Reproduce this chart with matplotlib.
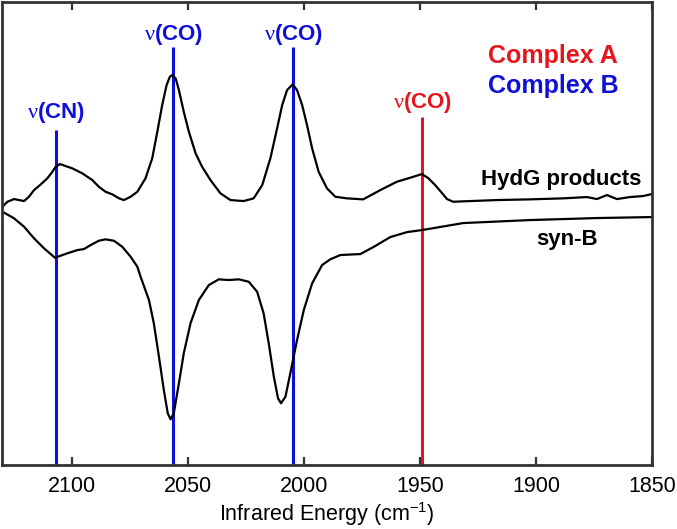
import numpy as np
import matplotlib
matplotlib.use("Agg")
import matplotlib.pyplot as plt

plt.rcParams['font.family'] = ['Liberation Sans', 'DejaVu Sans']
plt.rcParams['mathtext.fontset'] = 'custom'
plt.rcParams['mathtext.rm'] = 'Liberation Serif'

# HydG products spectrum (wavenumber, arbitrary intensity)
hydg_wn = [2129.8, 2127.7, 2124.8, 2122.7, 2120.5, 2118.4, 2116.2, 2113.3, 2110.5,
           2108.3, 2106.9, 2105.0, 2102.6, 2099.7, 2095.4, 2091.1, 2088.3, 2085.4,
           2082.5, 2079.6, 2077.5, 2074.6, 2071.7, 2068.2, 2065.3, 2063.1, 2061.0,
           2059.1, 2057.7, 2056.7, 2055.2, 2053.8, 2051.7, 2049.5, 2046.6, 2043.8,
           2040.2, 2035.9, 2031.6, 2025.9, 2021.6, 2017.9, 2014.4, 2011.5, 2009.3,
           2007.2, 2004.8, 2002.9, 2000.7, 1998.6, 1996.4, 1993.6, 1990.0, 1986.4,
           1981.4, 1974.4, 1967.0, 1959.9, 1952.8, 1949.1, 1946.4, 1943.4, 1940.8,
           1938.3, 1935.6, 1928.3, 1916.8, 1902.5, 1888.3, 1878.0, 1873.7, 1869.4,
           1865.1, 1859.5, 1853.9, 1850.0]
hydg_int = [258.3, 263.3, 266, 265, 264, 268.3, 275, 280.7, 286.7,
            293.3, 298.3, 301, 299, 296.7, 291.7, 285, 278.3, 273.3,
            270.7, 266.7, 265, 268.3, 273.3, 286.7, 306.7, 333.3, 360,
            380, 388.3, 390, 386.7, 375, 353.3, 333.3, 311.7, 298.3,
            285, 271.7, 265, 264, 266.7, 280, 306.7, 336.7, 360,
            375, 380.7, 375, 360, 340, 316.7, 293.3, 276.7, 268.3,
            266.7, 265.7, 275, 283.3, 288.3, 291, 287, 280, 273,
            266, 263.3, 264, 265, 265.7, 266.7, 268, 266, 270,
            266, 268, 269, 271]

# syn-B spectrum
synb_wn = [2129.8, 2124.8, 2120.5, 2116.2, 2111.9, 2107.2, 2101.9, 2097.5, 2094.7,
           2091.8, 2088.3, 2085.4, 2081.8, 2078.2, 2074.6, 2071.7, 2070.3, 2066.7,
           2064.6, 2062.4, 2060.3, 2058.6, 2057.4, 2056.0, 2053.8, 2051.7, 2048.8,
           2045.2, 2040.9, 2036.6, 2032.3, 2028.0, 2023.7, 2020.1, 2017.3, 2015.1,
           2012.9, 2011.1, 2009.8, 2007.9, 2005.8, 2002.9, 2000.0, 1996.4, 1992.1,
           1988.6, 1984.3, 1975.6, 1970.0, 1962.7, 1955.4, 1949.0, 1931.3, 1902.5,
           1873.7, 1850.0]
synb_int = [253.3, 246.7, 238.3, 226.7, 216.7, 207.3, 211.7, 215, 216,
            220, 224.3, 225.7, 224.3, 218.3, 208.3, 198.3, 188.3, 165,
            141.7, 108.3, 75, 51.7, 45.7, 51.7, 81.7, 111.7, 141.7,
            165, 180, 185.7, 185, 185.7, 183.3, 173.3, 151.7, 121.7,
            88.3, 66.7, 61.7, 68.3, 91.7, 125, 155, 181.7, 200,
            205.7, 210, 211, 218, 228, 233, 235, 242, 245,
            247, 248]

# band markers: position, top of line, label baseline, bond, complex
band_pos = [2106.9, 2056.3, 2004.6, 1949.0]
band_top = [335, 418, 418, 348]
band_text_y = [347, 425, 425, 357]
band_label = ["CN", "CO", "CO", "CO"]
band_group = ["B", "B", "B", "A"]

colors = {"A": "#e8141c", "B": "#0f0fdc"}

fig = plt.figure(figsize=(6.77, 5.29), dpi=100)
ax = fig.add_axes([0.003, 0.121, 0.96, 0.875])

for pos, top, ty, lab, grp in zip(band_pos, band_top, band_text_y, band_label, band_group):
    ax.vlines(pos, 0, top, color=colors[grp], lw=2.2, zorder=1)
    ax.text(pos, ty, r"$\mathrm{\nu}$(" + lab + ")", color=colors[grp],
            fontsize=16, fontweight='bold', ha='center', va='baseline')

ax.plot(hydg_wn, hydg_int, color='black', lw=1.6, zorder=2)
ax.plot(synb_wn, synb_int, color='black', lw=1.6, zorder=2)

ax.text(1889.1, 280, "HydG products", fontsize=16, fontweight='bold', ha='center', va='baseline')
ax.text(1886.6, 220, "syn-B", fontsize=16, fontweight='bold', ha='center', va='baseline')
ax.text(1892.6, 402, "Complex A", fontsize=18, fontweight='bold', color=colors["A"],
        ha='center', va='baseline')
ax.text(1892.6, 372, "Complex B", fontsize=18, fontweight='bold', color=colors["B"],
        ha='center', va='baseline')

ax.set_xlim(2130, 1850)
ax.set_ylim(0, 463)
ax.set_xticks([2100, 2050, 2000, 1950, 1900, 1850])
ax.set_yticks([])
ax.tick_params(axis='x', direction='in', length=6, width=1.6, color='#333333',
               labelsize=15.5, top=True, pad=8)
for s in ax.spines.values():
    s.set_linewidth(2)
    s.set_color('#333333')
ax.set_xlabel(r"Infrared Energy (cm$^{\mathregular{-1}}$)", fontsize=15.5, labelpad=2)

plt.savefig("out.png", dpi=100)
